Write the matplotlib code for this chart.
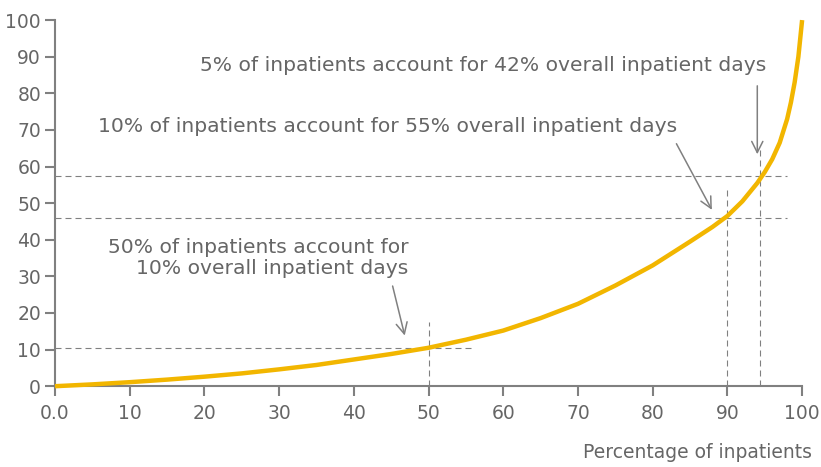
import numpy as np
import matplotlib.pyplot as plt
from matplotlib.ticker import FixedLocator, FixedFormatter

# cumulative share of inpatient days vs share of inpatients
pct_inpatients = [0, 5, 10, 15, 20, 25, 30, 35, 40, 45, 50, 55, 60, 65, 70, 75, 80, 85, 88, 90,
                  92, 94, 95, 96, 97, 98, 98.5, 99, 99.5, 100]
pct_days = [0, 0.5, 1.1, 1.8, 2.6, 3.5, 4.6, 5.8, 7.3, 8.8, 10.5, 12.7, 15.2, 18.6, 22.5, 27.5, 33.0, 39.5, 43.5, 46.5,
            50.5, 55.5, 58.5, 62.0, 66.5, 73.0, 77.5, 83.0, 90.0, 100.0]

x_ticks = [0, 10, 20, 30, 40, 50, 60, 70, 80, 90, 100]
x_labels = ['0.0', '10', '20', '30', '40', '50', '60', '70', '80', '90', '100']
y_ticks = [0, 10, 20, 30, 40, 50, 60, 70, 80, 90, 100]

# reference guides: (x, y, horizontal end, vertical end)
guides = [(50, 10.5, 56.2, 17.5), (90, 46, 98, 54), (94.4, 57.5, 98, 65)]

notes = [
    ('50% of inpatients account for\n10% overall inpatient days', (47.3, 35.0), (45.1, 28.1), (46.9, 13.1)),
    ('10% of inpatients account for 55% overall inpatient days', (83.3, 71.0), (83.0, 66.9), (88.1, 47.5)),
    ('5% of inpatients account for 42% overall inpatient days', (95.2, 87.7), (94.0, 82.8), (94.0, 62.6)),
]

grey = '#808080'
text_c = '#666666'
plt.rcParams['font.family'] = ['DejaVu Sans']

fig = plt.figure(figsize=(8.21, 4.67), dpi=100)
ax = fig.add_axes([0.067, 0.173, 0.910, 0.784])

# dashed guides
for gx, gy, hx, vy in guides:
    ax.plot([0, hx], [gy, gy], ls=(0, (5.4, 3.6)), color=grey, lw=0.8)
    ax.plot([gx, gx], [0, vy], ls=(0, (5.4, 3.6)), color=grey, lw=0.8)

ax.plot(pct_inpatients, pct_days, color='#F2B600', lw=3.2, clip_on=False, zorder=5,
        solid_capstyle='butt', solid_joinstyle='round')

for txt, tpos, a0, a1 in notes:
    ax.text(tpos[0], tpos[1], txt, ha='right', va='center', multialignment='right',
            fontsize=14.6, color=text_c, linespacing=1.15)
    ax.annotate('', xy=a1, xytext=a0,
                arrowprops=dict(arrowstyle='->,head_length=0.8,head_width=0.4',
                                color=grey, lw=1.1))

ax.set_xlim(0, 100)
ax.set_ylim(0, 100)
ax.xaxis.set_major_locator(FixedLocator(x_ticks))
ax.xaxis.set_major_formatter(FixedFormatter(x_labels))
ax.yaxis.set_major_locator(FixedLocator(y_ticks))

for s in ['top', 'right']:
    ax.spines[s].set_visible(False)
for s in ['left', 'bottom']:
    ax.spines[s].set_color(grey)
    ax.spines[s].set_linewidth(1.5)

ax.tick_params(axis='both', colors=grey, labelcolor=text_c, labelsize=13.5,
               length=7, width=1.5, direction='out')
ax.tick_params(axis='x', pad=6)
ax.tick_params(axis='y', pad=3)

fig.text(812 / 821, 1 - 453 / 467, 'Percentage of inpatients', ha='right', va='center',
         fontsize=13.5, color=text_c)

fig.savefig('out.png', dpi=100)
